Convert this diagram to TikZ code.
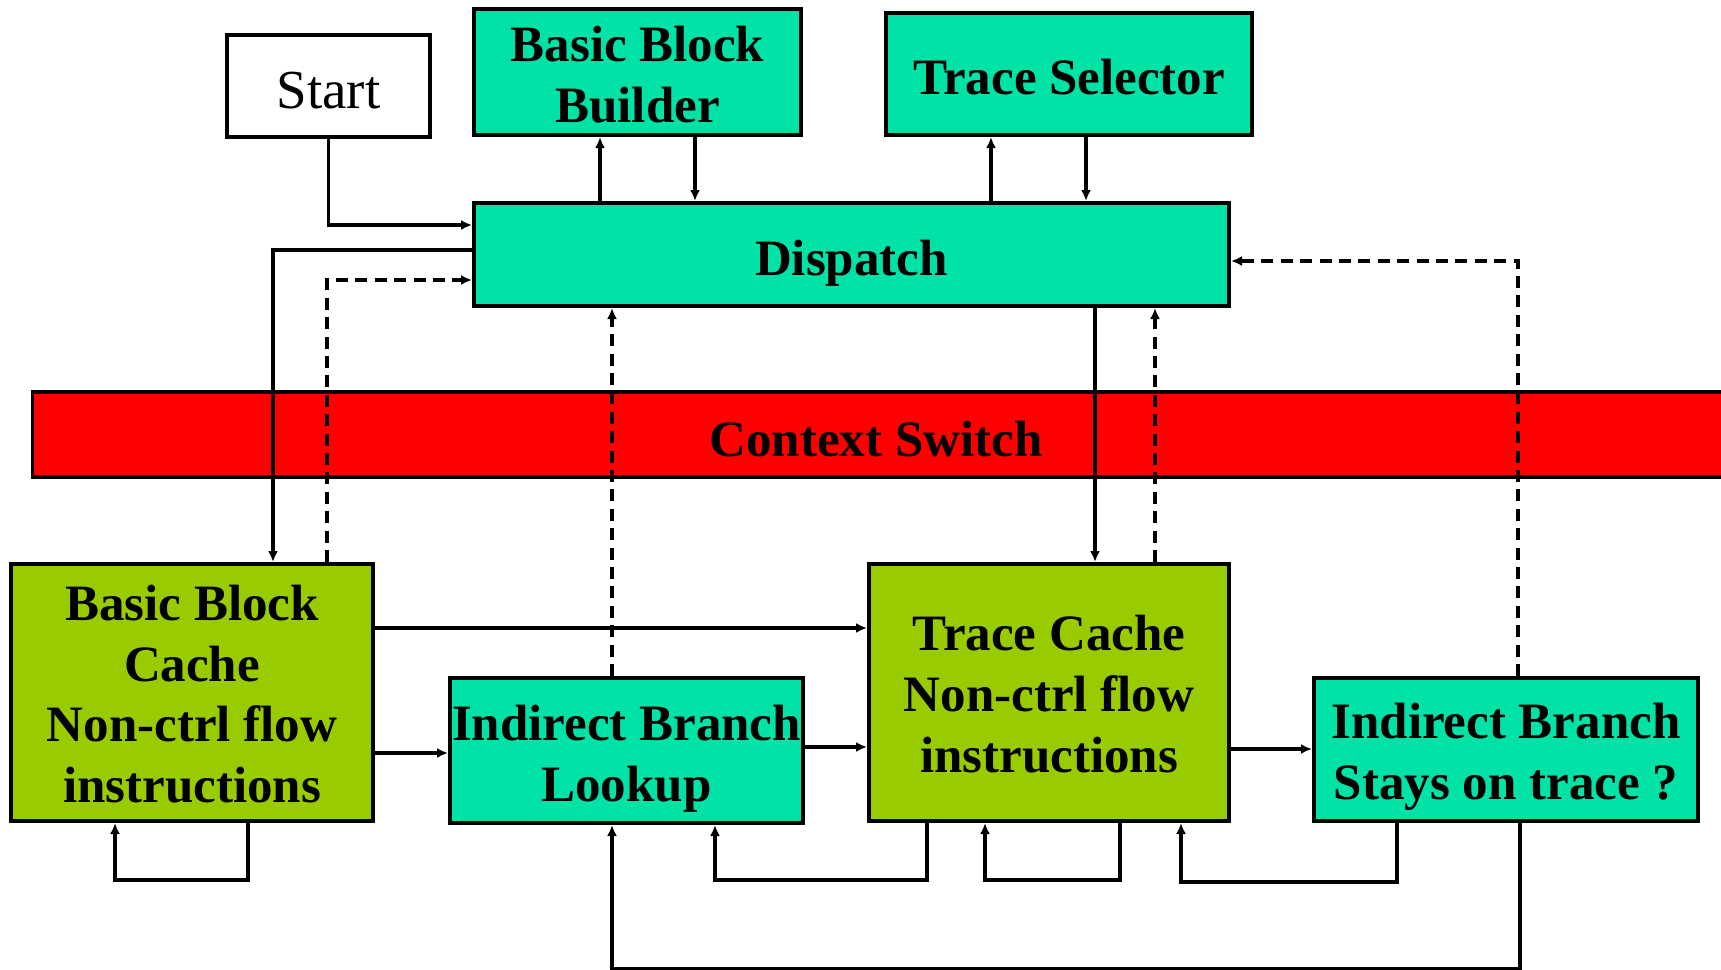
\documentclass[tikz,border=0pt]{standalone}
\usepackage{fontspec}
\setmainfont{Liberation Serif}
\usetikzlibrary{arrows.meta}
\definecolor{teal}{RGB}{0,226,166}
\definecolor{olive}{RGB}{153,204,0}
% invisible strut that sets where the first line sits in its box
\newcommand{\drop}[1]{\rule{0pt}{#1}}

\begin{document}
\begin{tikzpicture}[x=0.5pt,y=-0.5pt,
  box/.style={shape=rectangle,draw=black,line width=2pt,align=center,inner sep=0pt,font=\fontsize{25.5}{30.5}\selectfont\bfseries},
  arr/.style={-{Latex[length=5.5pt,width=5pt]},draw=black,line width=1.6pt},
  dsh/.style={arr,line width=1.8pt,dash pattern=on 6pt off 3.7pt}]
\useasboundingbox (0,0) rectangle (1721,970);

\node[box,font=\fontsize{27.5}{30.5}\selectfont,minimum width=101.5pt,minimum height=51pt] (0) at (328.5,86) {\drop{22.3pt}Start};
\node[box,fill=teal,minimum width=163.5pt,minimum height=63pt] (1) at (637.5,72) {\drop{20pt}Basic Block\\Builder};
\node[box,fill=teal,minimum width=183pt,minimum height=61pt] (2) at (1069,74) {\drop{20.6pt}Trace Selector};
\node[box,fill=teal,minimum width=377.5pt,minimum height=51.5pt] (3) at (851.5,254.5) {\drop{26.5pt}Dispatch};
\node[box,fill=red,line width=1.6pt,minimum width=847pt,minimum height=42.5pt,anchor=west] (4) at (31,434.5) {};
\node[font=\fontsize{25.5}{30.5}\selectfont\bfseries,inner sep=0pt] (4t) at (876,439) {Context Switch};
\node[box,fill=olive,minimum width=181pt,minimum height=128.5pt] (5) at (192,692.5) {\drop{19.3pt}Basic Block\\Cache\\Non-ctrl flow\\instructions};
\node[box,fill=teal,minimum width=176.5pt,minimum height=72.5pt] (6) at (626.5,750.5) {\drop{26pt}Indirect Branch\\Lookup};
\node[box,fill=olive,minimum width=180pt,minimum height=128.5pt] (7) at (1049,692.5) {\drop{19.3pt}Trace Cache\\Non-ctrl flow\\instructions};
\node[box,fill=teal,minimum width=192pt,minimum height=71.5pt] (8) at (1506,749.5) {\drop{24.5pt}Indirect Branch\\Stays on trace ?};

% top part
\draw[arr] (0.south) |- (3.west |- 0,225);
\draw[arr] (3.west |- 0,250) -| (5.north -| 273,0);
\draw[dsh] (5.north -| 327,0) |- (3.west |- 0,280);
\draw[arr] (3.north -| 600,0) -- (1.south -| 600,0);
\draw[arr] (1.south -| 695,0) -- (3.north -| 695,0);
\draw[arr] (3.north -| 991,0) -- (2.south -| 991,0);
\draw[arr] (2.south -| 1086,0) -- (3.north -| 1086,0);
\draw[dsh] (6.north -| 612,0) -- (3.south -| 612,0);
\draw[arr] (3.south -| 1095,0) -- (7.north -| 1095,0);
\draw[dsh] (7.north -| 1155,0) -- (3.south -| 1155,0);
\draw[dsh] (8.north -| 1518,0) |- (3.east |- 0,261);

% middle row
\draw[arr] (5.east |- 0,628) -- (7.west |- 0,628);
\draw[arr] (5.east |- 0,753) -- (6.west |- 0,753);
\draw[arr] (6.east |- 0,747) -- (7.west |- 0,747);
\draw[arr] (7.east |- 0,749) -- (8.west |- 0,749);

% loops below
\draw[arr] (5.south -| 248,0) -- ++(0,57) -| (5.south -| 115,0);
\draw[arr] (7.south -| 927,0) -- ++(0,57) -| (6.south -| 715,0);
\draw[arr] (7.south -| 1120,0) -- ++(0,57) -| (7.south -| 985,0);
\draw[arr] (8.south -| 1397,0) -- ++(0,59) -| (7.south -| 1181,0);
\draw[arr] (8.south -| 1520,0) -- ++(0,146) -| (6.south -| 612,0);
\end{tikzpicture}
\end{document}
